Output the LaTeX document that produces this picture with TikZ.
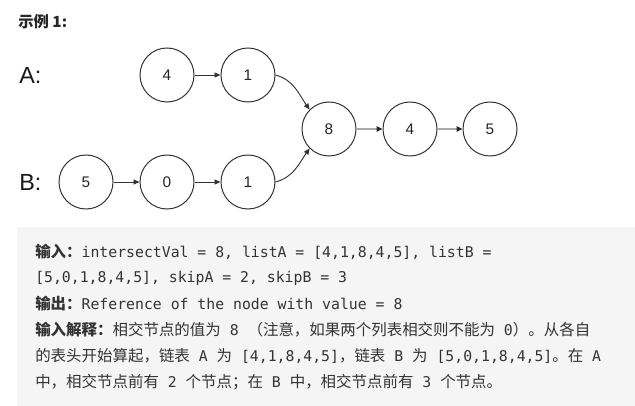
\documentclass[tikz,border=0pt]{standalone}
\usepackage{fontspec}
\setmainfont{Liberation Sans}
\setmonofont{DejaVu Sans Mono}
\newfontfamily\cjk{Noto Sans CJK SC}
\usetikzlibrary{arrows.meta}
\definecolor{boxgray}{HTML}{F5F5F5}
\definecolor{txt}{HTML}{333333}
\definecolor{ringc}{HTML}{333333}
\definecolor{grayarrow}{HTML}{AAAAAA}
\newcommand\tm[1]{{\ttfamily\fontsize{11.1}{13}\selectfont #1}}
\newcommand\zh[1]{{\cjk\fontsize{11.6}{13}\selectfont #1}}
\newcommand\zhb[1]{{\cjk\bfseries\fontsize{11.6}{13}\selectfont #1}}
\begin{document}
\begin{tikzpicture}[x=0.75pt,y=-0.75pt,
  lnode/.style={circle,draw=ringc,line width=0.75pt,minimum size=40.5pt,inner sep=0pt,
    font=\fontsize{11.5}{13}\selectfont,text=black!85},
  darr/.style={draw=black!80,line width=0.7pt,-{Triangle[length=4.5pt,width=3.8pt]}},
  garr/.style={draw=grayarrow,line width=1.5pt,-{Triangle[length=4.5pt,width=4pt,color=black!85]}},
  lbl/.style={anchor=west,inner sep=0pt,font=\fontsize{17.5}{20}\selectfont,text=black!90},
  line/.style={anchor=west,inner sep=0pt,text=txt}]
\useasboundingbox (0,0) rectangle (635,406);
\fill[white] (0,0) rectangle (635,406);
\fill[boxgray] (17,227) rectangle (635,406);

\node[anchor=west,inner sep=0pt,text=black!85] (title) at (18,22) {\cjk\bfseries\fontsize{11.5}{13}\selectfont 示例 1:};

\node[lbl] (la) at (19,75) {A:};
\node[lbl] (lb) at (19,182) {B:};

\node[lnode] (a1) at (167,75) {4};
\node[lnode] (a2) at (248,75) {1};
\node[lnode] (b1) at (86,182) {5};
\node[lnode] (b2) at (167,182) {0};
\node[lnode] (b3) at (248,182) {1};
\node[lnode] (c1) at (329,129) {8};
\node[lnode] (c2) at (410,129) {4};
\node[lnode] (c3) at (490,129) {5};

\draw[darr] (a1) -- (a2);
\draw[darr] (b1) -- (b2);
\draw[darr] (b2) -- (b3);
\draw[darr] (a2.east) to[out=-15,in=125] (c1.135);
\draw[darr] (b3.east) to[out=15,in=-125] (c1.-135);
\draw[garr] (c1) -- (c2);
\draw[garr] (c2) -- (c3);

\node[line] (t1) at (35,252) {\zhb{输入：}\tm{intersectVal = 8, listA = [4,1,8,4,5], listB =}};
\node[line] (t2) at (35,278) {\tm{[5,0,1,8,4,5], skipA = 2, skipB = 3}};
\node[line] (t3) at (35,304) {\zhb{输出：}\tm{Reference of the node with value = 8}};
\node[line] (t4) at (35,330) {\zhb{输入解释：}\zh{相交节点的值为}\tm{ 8 }\zh{（注意，如果两个列表相交则不能为}\tm{ 0}\zh{）。从各自}};
\node[line] (t5) at (35,356) {\zh{的表头开始算起，链表}\tm{ A }\zh{为}\tm{ [4,1,8,4,5]}\zh{，链表}\tm{ B }\zh{为}\tm{ [5,0,1,8,4,5]}\zh{。在}\tm{ A}};
\node[line] (t6) at (35,382) {\zh{中，相交节点前有}\tm{ 2 }\zh{个节点；在}\tm{ B }\zh{中，相交节点前有}\tm{ 3 }\zh{个节点。}};
\end{tikzpicture}
\end{document}
